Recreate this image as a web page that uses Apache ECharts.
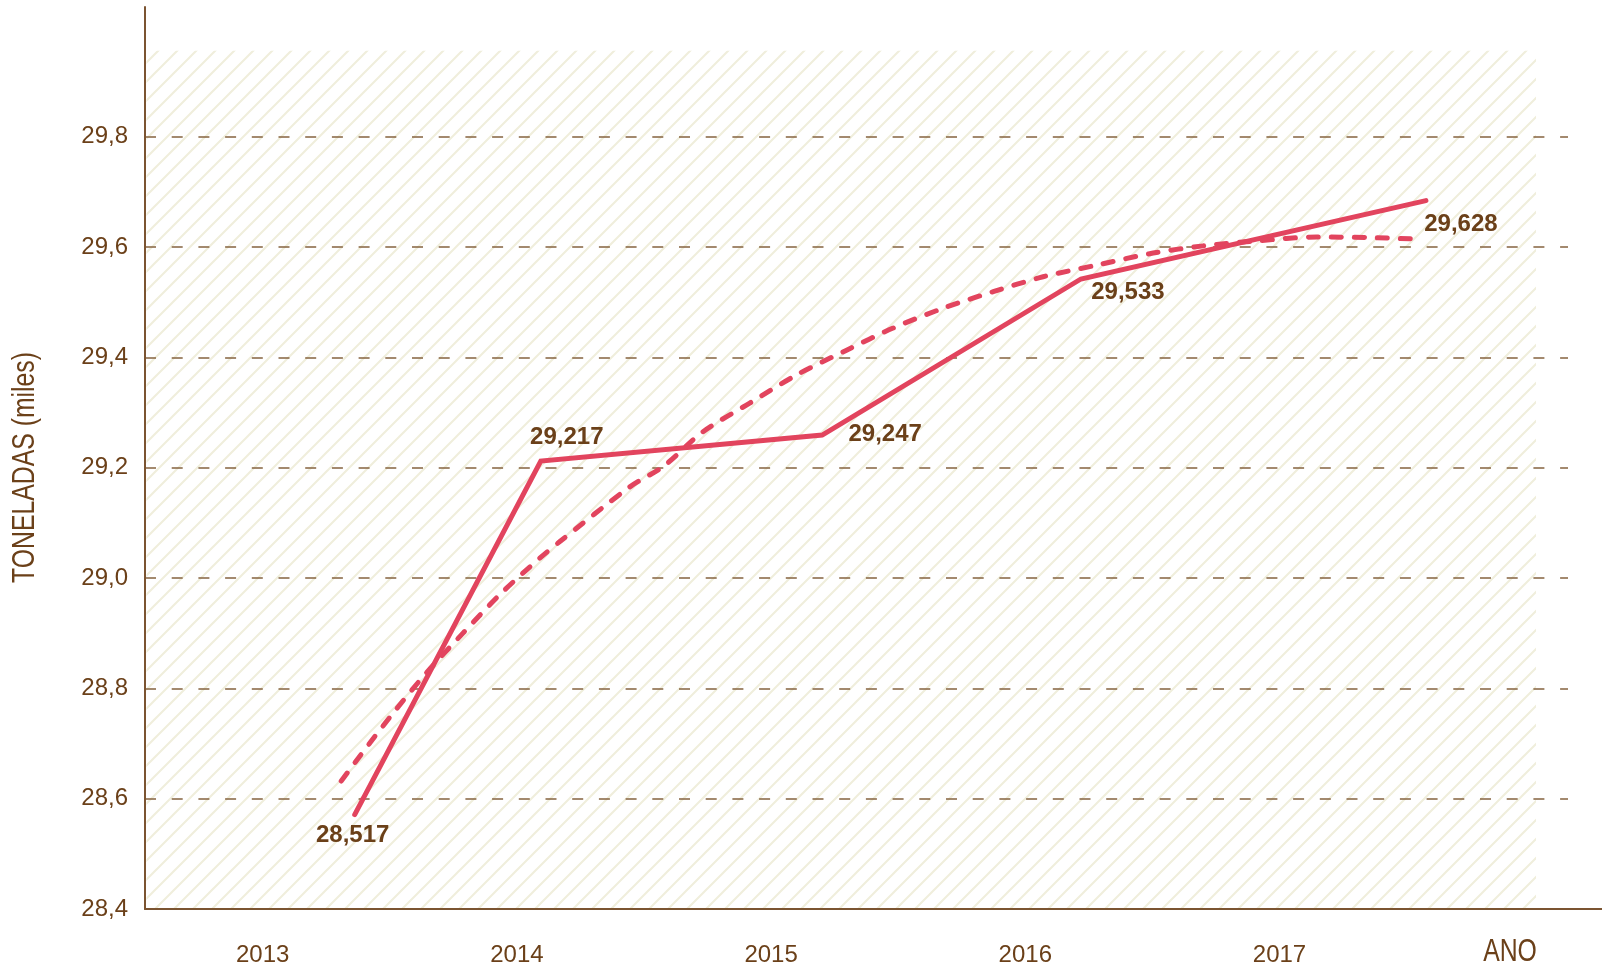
<!DOCTYPE html>
<html><head><meta charset="utf-8">
<script src="https://cdn.jsdelivr.net/npm/echarts@6/dist/echarts.min.js"></script>
<style>html,body{margin:0;padding:0;background:#fff}#c{width:1602px;height:971px}</style>
</head><body><div id="c"></div>
<script>
// ---- data ----
const years = [2013, 2014, 2015, 2016, 2017];
const yTicks = [28.4, 28.6, 28.8, 29.0, 29.2, 29.4, 29.6, 29.8];
// solid series: positions as drawn (x in years along the axis)
const seriesX = [2013.362, 2014.094, 2015.201, 2016.219, 2017.576];
const seriesY = [28.571, 29.212, 29.259, 29.542, 29.684];
// printed value labels
const pointLabels = [28.517, 29.217, 29.247, 29.533, 29.628];
// dashed trend curve
const trendX = [2013.309, 2013.382, 2013.513, 2013.644, 2013.788, 2013.933, 2014.090, 2014.169, 2014.444, 2014.578, 2014.732, 2014.916, 2015.100, 2015.297, 2015.480, 2015.677, 2015.874, 2016.070, 2016.280, 2016.503, 2016.700, 2016.910, 2017.146, 2017.356, 2017.564];
const trendY = [28.632, 28.677, 28.755, 28.828, 28.900, 28.970, 29.036, 29.066, 29.165, 29.203, 29.265, 29.317, 29.368, 29.413, 29.453, 29.489, 29.519, 29.546, 29.567, 29.589, 29.602, 29.611, 29.618, 29.617, 29.614];
const xAxisName = 'ANO';
const yAxisName = 'TONELADAS (miles)';

// ---- styling / layout ----
const red = '#e2445e';
const textColor = '#6b4019';
const axisColor = '#7b5431';
const gridColor = '#85633f';
const FONT = '"Liberation Sans", Arial, Helvetica, sans-serif';
const labelOffsets = [[-2, 21], [26, -24], [63, -1], [47, 13], [35, 24]];

function hatch() {
  const s = 19;
  const c = document.createElement('canvas');
  c.width = s; c.height = s;
  const g = c.getContext('2d');
  g.strokeStyle = '#f0eedc';
  g.lineWidth = 2.1;
  g.beginPath();
  g.moveTo(-3, s + 3); g.lineTo(s + 3, -3);
  g.moveTo(-3, 3); g.lineTo(3, -3);
  g.moveTo(s - 3, s + 3); g.lineTo(s + 3, s - 3);
  g.stroke();
  return c;
}
const fmt3 = v => v.toFixed(3).replace('.', ',');
const fmt1 = v => v.toFixed(1).replace('.', ',');

const chart = echarts.init(document.getElementById('c'), null, {renderer: 'canvas'});
chart.setOption({
  animation: false,
  backgroundColor: '#ffffff',
  grid: {left: 145, right: 34, top: 7, bottom: 62, containLabel: false},
  xAxis: {
    type: 'value', min: 2012.537, max: 2018.135,
    axisLine: {show: true, lineStyle: {color: axisColor, width: 2}},
    axisTick: {show: false, customValues: years},
    splitLine: {show: false},
    axisLabel: {customValues: years, formatter: v => String(Math.round(v)), color: textColor,
      fontSize: 24, fontFamily: FONT, margin: 34}
  },
  yAxis: {
    type: 'value', min: 28.4, max: 30.035, interval: 0.2,
    axisLine: {show: true, lineStyle: {color: axisColor, width: 2}},
    axisTick: {show: false, customValues: yTicks},
    splitLine: {show: true, lineStyle: {color: gridColor, width: 1.5, type: [11, 15.7]}},
    axisLabel: {customValues: yTicks, formatter: v => fmt1(v), color: textColor,
      fontSize: 24, fontFamily: FONT, margin: 17}
  },
  graphic: [
    {type: 'rect', z: -10, silent: true,
     shape: {x: 146.5, y: 50.7, width: 1536 - 146.5, height: 908 - 50.7},
     style: {fill: {image: hatch(), repeat: 'repeat'}}},
    {type: 'line', silent: true, shape: {x1: 1566, y1: 909, x2: 1602, y2: 909},
     style: {stroke: axisColor, lineWidth: 2}},
    {type: 'text', silent: true, x: 25.5, y: 467.5, rotation: Math.PI / 2, scaleX: 0.8,
     style: {text: yAxisName, fill: textColor, font: '31px ' + FONT, textAlign: 'center', textVerticalAlign: 'middle'}},
    {type: 'text', silent: true, x: 1510, y: 952.5, scaleX: 0.8,
     style: {text: xAxisName, fill: textColor, font: '31px ' + FONT, textAlign: 'center', textVerticalAlign: 'middle'}}
  ],
  series: [
    {
      type: 'line', z: 3, silent: true,
      data: seriesX.map((x, i) => ({value: [x, seriesY[i]], label: {offset: labelOffsets[i]}})),
      symbol: 'circle', symbolSize: 1, itemStyle: {color: red},
      lineStyle: {color: red, width: 5, cap: 'round', join: 'miter'},
      label: {show: true, position: 'inside', formatter: p => fmt3(pointLabels[p.dataIndex]),
        color: textColor, fontSize: 24, fontWeight: 'bold', fontFamily: FONT}
    },
    {
      type: 'line', z: 4, silent: true,
      data: trendX.map((x, i) => [x, trendY[i]]),
      smooth: 0.3, symbol: 'none',
      lineStyle: {color: red, width: 5, type: [10, 13], cap: 'round', join: 'round'}
    }
  ]
});
</script></body></html>
